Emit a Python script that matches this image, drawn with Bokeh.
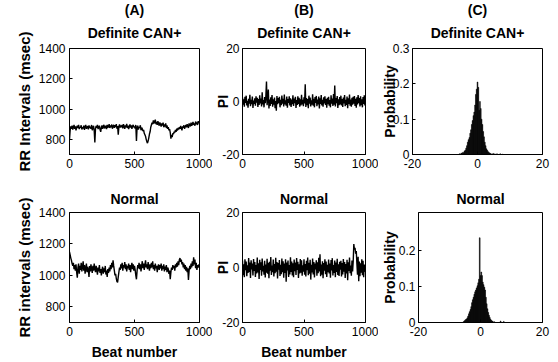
from bokeh.plotting import figure
from bokeh.models import Range1d, FixedTicker, Title, CustomJSTickFormatter
from bokeh.layouts import column, row
from bokeh.embed import file_html
from bokeh.resources import INLINE

FONT = "Liberation Sans"

# ---------------- data (one value every 5 beats) ----------------
BEAT_STEP = 5

rr_can = [
    800, 860, 885, 870, 890, 865, 880, 895, 870, 885, 860, 880, 890, 875, 895, 868, 882, 878, 893, 865,
    880, 872, 890, 862, 885, 895, 870, 880, 888, 866, 892, 875, 883, 870, 895, 860, 878, 890, 858, 780,
    870, 888, 876, 895, 868, 882, 890, 865, 850, 878, 892, 870, 885, 896, 872, 880, 890, 868, 895, 878,
    885, 900, 875, 892, 880, 898, 870, 888, 895, 876, 893, 882, 900, 870, 888, 830, 885, 898, 878, 892,
    880, 895, 872, 900, 885, 870, 893, 880, 902, 875, 890, 868, 885, 898, 878, 892, 870, 888, 895, 880,
    885, 872, 895, 790, 880, 890, 865, 882, 875, 893, 860, 878, 870, 855, 862, 840, 830, 820, 800, 785,
    775, 790, 810, 835, 850, 880, 895, 910, 900, 925, 905, 918, 930, 900, 915, 895, 920, 905, 890, 912,
    900, 885, 905, 892, 910, 880, 898, 885, 905, 875, 893, 870, 880, 860, 868, 845, 805, 830, 815, 840,
    835, 850, 845, 862, 850, 870, 858, 875, 865, 880, 870, 888, 875, 860, 885, 878, 893, 870, 885, 895,
    880, 900, 890, 875, 905, 895, 885, 910, 890, 900, 915, 895, 905, 890, 918, 900, 912, 895, 920, 905,
]

rr_normal = [
    1150, 1130, 1110, 1095, 1075, 1060, 1080, 1040, 1065, 1030, 1070, 1020, 985, 1050, 1075, 1010, 1060, 1035, 1080, 1025,
    1055, 1090, 1030, 1065, 1010, 1045, 1075, 1020, 1055, 1035, 990, 1060, 1025, 1070, 1040, 1015, 1060, 1030, 1075, 1045,
    1020, 1060, 1035, 1005, 1050, 1025, 1065, 1015, 1040, 1000, 1035, 1055, 1010, 1045, 1020, 1060, 1005, 1030, 990, 1040,
    1015, 1050, 1025, 1065, 1040, 1080, 1050, 1095, 1060, 1030, 1000, 1010, 980, 960, 955, 990, 1020, 1050, 1035, 1070,
    1045, 1080, 1030, 1065, 1050, 1085, 1040, 1070, 1025, 1060, 1045, 1075, 1035, 1065, 1020, 1055, 1080, 1040, 1070, 1030,
    1060, 1035, 1000, 975, 1030, 1065, 1045, 1080, 1040, 1070, 1025, 1060, 1090, 1045, 1075, 1035, 1065, 1095, 1050, 1070,
    1040, 1085, 1055, 1030, 1070, 1045, 1080, 1050, 1090, 1040, 1065, 1030, 1075, 1045, 1060, 1020, 1055, 1070, 1035, 1065,
    1045, 1075, 1030, 1060, 1040, 1070, 1025, 1055, 1035, 1065, 1020, 1050, 1040, 1010, 1030, 975, 1020, 1050, 1035, 1065,
    1045, 1060, 1030, 1070, 1050, 1080, 1055, 1090, 1065, 1100, 1110, 1085, 1100, 1070, 1085, 1050, 1075, 1040, 1065, 1030,
    1055, 1020, 1045, 970, 1030, 1060, 1040, 1075, 1050, 1090, 1060, 1115, 1070, 1100, 1045, 1080, 1035, 1065, 1050, 1070,
]

pi_can = [
    1.5, -1.2, 0.8, -2.0, 1.8, -0.5, 2.2, -1.5, 0.3, -2.3, 1.0, -0.8, 2.5, -1.8, 0.6, -1.0, 1.9, -2.4, 0.4, -0.9,
    1.2, -1.6, 2.0, -0.4, 1.4, -2.1, 0.9, -1.3, 2.3, -0.7, 1.1, -1.9, 3.5, -1.1, 0.5, -2.2, 1.7, -0.6, 2.1, 7.5,
    -1.4, 1.3, 4.5, -2.6, 0.7, -1.7, 1.6, -0.9, 2.4, -2.0, 0.8, -1.2, 1.5, -2.5, 0.2, -3.5, 2.1, -1.0, 1.3, -0.6,
    1.8, -2.2, 0.6, -1.4, 2.2, -0.8, 1.0, -1.9, 2.6, -1.1, 0.4, -1.6, 1.9, -2.3, 0.9, -0.5, 2.0, -1.5, 1.2, -2.1,
    0.7, -1.0, 2.3, -1.7, 1.1, -0.6, 1.8, -2.4, 0.5, -1.3, 2.0, -0.9, 1.4, -2.0, 0.8, -1.5, 2.5, -1.1, 0.6, -1.8,
    1.6, -0.7, 6.5, -2.1, 1.3, -1.4, 0.9, -2.5, 2.2, -0.8, 1.5, -1.9, 0.4, -1.2, 2.7, -1.6, 1.0, -2.2, 1.7, -0.5,
    2.1, -1.8, 0.7, -1.1, 1.9, -2.6, 1.2, -0.9, 2.4, -1.5, 0.6, -2.0, 1.6, -0.7, 2.0, -1.3, 0.9, -2.3, 1.4, -1.0,
    1.8, -1.6, 0.5, -2.2, 2.3, -0.8, 1.1, -1.7, 2.8, -1.2, 6.0, -1.9, 1.3, -0.6, 2.1, -2.4, 0.8, -1.4, 1.7, -1.1,
    2.2, -1.5, 0.9, -2.1, 1.5, -0.7, 2.4, -1.8, 0.6, -1.3, 1.9, -2.5, 1.2, -0.9, 2.6, -1.6, 0.7, -2.0, 1.4, -1.2,
    1.8, -0.8, 2.1, -1.7, 1.0, -2.3, 1.6, -1.1, 2.4, -0.6, 1.3, -1.9, 2.0, -1.4, 0.8, -2.2, 1.7, -0.9, 2.3, -1.5,
]

pi_normal = [
    2.5, -2.8, 1.2, -3.5, 3.0, -1.0, 2.2, -3.2, 0.8, -2.0, 3.4, -1.6, 1.8, -3.8, 2.6, -0.7, 1.4, -2.9, 3.1, -1.3,
    2.0, -3.4, 0.9, -2.2, 3.6, -1.8, 1.5, -4.2, 2.8, -0.9, 1.9, -3.0, 3.3, -1.4, 0.6, -2.6, 2.4, -3.6, 1.1, -1.9,
    3.2, -2.3, 1.7, -3.9, 2.1, -1.2, 3.8, -2.7, 0.7, -1.7, 2.9, -3.3, 1.3, -2.1, 3.5, -1.5, 2.0, -4.0, 1.6, -0.8,
    2.7, -3.1, 1.0, -2.4, 3.3, -1.7, 2.3, -3.7, 1.4, -2.0, 3.0, -5.2, 1.8, -1.1, 2.5, -3.4, 0.9, -2.5, 3.7, -1.6,
    2.2, -2.9, 1.5, -3.5, 2.9, -1.3, 1.8, -2.7, 3.4, -0.9, 2.1, -3.8, 1.2, -2.2, 3.1, -1.9, 2.6, -3.0, 0.8, -1.5,
    3.0, -2.6, 1.3, -3.3, 2.4, -1.0, 3.6, -2.8, 1.7, -2.3, 2.8, -4.4, 1.0, -1.8, 3.3, -2.5, 2.0, -3.6, 1.4, -0.7,
    2.6, -3.0, 1.9, -2.1, 3.5, -1.4, 4.8, -3.2, 1.1, -2.6, 2.3, -3.9, 1.6, -1.2, 3.0, -2.4, 2.2, -3.4, 1.0, -1.7,
    2.9, -2.2, 1.4, -3.7, 2.7, -1.1, 3.4, -2.9, 0.9, -2.0, 2.5, -3.5, 1.8, -1.6, 3.2, -2.7, 1.2, -3.1, 2.1, -0.8,
    2.4, -3.3, 1.6, -2.5, 3.1, -1.5, 2.0, -3.8, 1.3, -2.2, 2.8, -4.6, 1.9, -1.3, 3.6, -2.1, 0.7, -3.0, 2.5, -1.4,
    2.1, 8.5, 6.5, 7.2, 5.0, 6.0, 1.5, -2.6, 3.9, -5.0, 2.2, -3.2, 1.5, -1.9, 3.0, -2.8, 2.4, -3.5, 1.1, -1.6,
]

hist_can_bins = [-5.5, -5.0, -4.75, -4.5, -4.25, -4.0, -3.75, -3.5, -3.25, -3.0,
                 -2.75, -2.5, -2.25, -2.0, -1.75, -1.5, -1.25, -1.0, -0.75, -0.5,
                 -0.25, 0.0, 0.25, 0.5, 0.75, 1.0, 1.25, 1.5, 1.75, 2.0,
                 2.25, 2.5, 2.75, 3.0, 3.25, 3.5, 3.75, 4.0, 4.5, 5.0,
                 5.5, 6.0, 7.0, 7.75]
hist_can_prob = [0.002, 0.004, 0.003, 0.006, 0.005, 0.010, 0.012, 0.018, 0.025, 0.035,
                 0.042, 0.048, 0.060, 0.070, 0.085, 0.096, 0.110, 0.120, 0.140, 0.170,
                 0.185, 0.205, 0.190, 0.125, 0.150, 0.130, 0.100, 0.085, 0.065, 0.050,
                 0.035, 0.025, 0.016, 0.012, 0.008, 0.006, 0.004, 0.003, 0.002, 0.003,
                 0.001, 0.002, 0.002, 0.001]

hist_normal_bins = [-5.5, -5.25, -5.0, -4.75, -4.5, -4.25, -4.0, -3.75, -3.5, -3.25,
                    -3.0, -2.75, -2.5, -2.25, -2.0, -1.75, -1.5, -1.25, -1.0, -0.75,
                    -0.5, -0.25, 0.0, 0.25, 0.5, 0.75, 1.0, 1.25, 1.5, 1.75,
                    2.0, 2.25, 2.5, 2.75, 3.0, 3.25, 3.5, 3.75, 4.0, 4.5,
                    6.5, 7.5]
hist_normal_prob = [0.002, 0.004, 0.006, 0.008, 0.010, 0.013, 0.018, 0.024, 0.030, 0.036,
                    0.044, 0.055, 0.063, 0.070, 0.078, 0.085, 0.090, 0.096, 0.102, 0.110,
                    0.120, 0.235, 0.130, 0.140, 0.130, 0.112, 0.105, 0.098, 0.090, 0.070,
                    0.052, 0.038, 0.028, 0.020, 0.014, 0.009, 0.006, 0.004, 0.003, 0.002,
                    0.004, 0.003]
HIST_BIN_WIDTH = 0.25

beat_ticks = [0, 500, 1000]
rr_ticks = [800, 1000, 1200, 1400]
pi_ticks = [-20, 0, 20]
hist_x_ticks = [-20, 0, 20]
prob_ticks_top = [0, 0.1, 0.2, 0.3]
prob_ticks_bottom = [0, 0.1, 0.2]

# ---------------- helpers ----------------
# plain ASCII hyphen-minus for negative numbers, as in the original figure
int_fmt = CustomJSTickFormatter(code="return String(tick);")
prob_fmt = CustomJSTickFormatter(code="return (Math.round(tick*10)/10).toString();")


def style_axis(ax, ticks, standoff, fmt):
    ax.ticker = FixedTicker(ticks=ticks)
    ax.formatter = fmt
    ax.axis_line_color = "black"
    ax.axis_line_width = 1
    ax.major_tick_line_color = "black"
    ax.major_tick_in = 3
    ax.major_tick_out = 0
    ax.minor_tick_line_color = None
    ax.major_label_text_font = FONT
    ax.major_label_text_font_size = "12px"
    ax.major_label_text_color = "black"
    ax.major_label_standoff = standoff


def label_axis(ax, text, size, standoff):
    ax.axis_label = text
    ax.axis_label_text_font = FONT
    ax.axis_label_text_font_size = size
    ax.axis_label_text_font_style = "bold"
    ax.axis_label_text_color = "black"
    ax.axis_label_standoff = standoff


def style_title(t, standoff, size="14px"):
    t.text_font = FONT
    t.text_font_size = size
    t.text_font_style = "bold"
    t.text_color = "black"
    t.align = "center"
    t.standoff = standoff


def make_fig(width, height, left, right, top, bottom, xr, yr, xticks, yticks,
             title_lines, inner_standoff, ylabel, ylab_size, ylab_standoff,
             xlabel=None, yfmt=int_fmt, x_standoff=4, y_standoff=4, ylab_as_title_offset=None):
    p = figure(width=width, height=height, x_range=Range1d(*xr), y_range=Range1d(*yr),
               toolbar_location=None, tools="", output_backend="svg",
               min_border_left=left, min_border_right=right,
               min_border_top=top, min_border_bottom=bottom)
    p.grid.visible = False
    p.outline_line_color = "black"
    p.outline_line_width = 1
    p.outline_line_alpha = 1
    p.background_fill_color = "white"
    p.border_fill_color = "white"
    style_axis(p.xaxis[0], xticks, x_standoff, int_fmt)
    style_axis(p.yaxis[0], yticks, y_standoff, yfmt)
    if xlabel:
        label_axis(p.xaxis[0], xlabel, "14px", 5)
    if ylab_as_title_offset is None:
        label_axis(p.yaxis[0], ylabel, ylab_size, ylab_standoff)
    else:
        yt = Title(text=ylabel, offset=ylab_as_title_offset)
        style_title(yt, ylab_standoff, ylab_size)
        p.add_layout(yt, "left")

    # p.title is the outermost line; the remaining lines are added nearer the frame
    p.title.text = title_lines[0]
    if len(title_lines) > 1:
        style_title(p.title, -7)
        for line in title_lines[1:]:
            t = Title(text=line)
            style_title(t, inner_standoff)
            p.add_layout(t, "above")
    else:
        style_title(p.title, inner_standoff)
    return p


def beats_for(series):
    return [i * BEAT_STEP for i in range(len(series))]


TOP_H, BOT_H = 178, 184
LW = 1.4

# ---- top row ----
a1 = make_fig(212, TOP_H, 69, 13, 48, 24, (0, 1000), (700, 1400), beat_ticks, rr_ticks,
              ["(A)", "Definite CAN+"], 16, "RR Intervals (msec)", "15px", 6,
              ylab_as_title_offset=18)
a1.line(beats_for(rr_can), rr_can, line_color="black", line_width=LW)

b1 = make_fig(166, TOP_H, 24, 13, 48, 24, (0, 1000), (-20, 20), beat_ticks, pi_ticks,
              ["(B)", "Definite CAN+"], 16, "PI", "14px", -12, y_standoff=3)
b1.line(beats_for(pi_can), pi_can, line_color="black", line_width=LW)

c1 = make_fig(180, TOP_H, 31, 16, 48, 24, (-20, 20), (0, 0.3), hist_x_ticks, prob_ticks_top,
              ["(C)", "Definite CAN+"], 16, "Probability", "14px", -8,
              yfmt=prob_fmt, y_standoff=3)
c1.vbar(x=hist_can_bins, top=hist_can_prob, bottom=0, width=HIST_BIN_WIDTH,
        fill_color="black", line_color="black", line_width=0.5)

# ---- bottom row ----
a2 = make_fig(212, BOT_H, 69, 13, 34, 38, (0, 1000), (700, 1400), beat_ticks, rr_ticks,
              ["Normal"], 12, "RR intervals (msec)", "15px", 6, xlabel="Beat number",
              ylab_as_title_offset=4)
a2.line(beats_for(rr_normal), rr_normal, line_color="black", line_width=LW)

b2 = make_fig(166, BOT_H, 24, 13, 34, 38, (0, 1000), (-20, 20), beat_ticks, pi_ticks,
              ["Normal"], 12, "PI", "14px", -12, xlabel="Beat number", y_standoff=3)
b2.line(beats_for(pi_normal), pi_normal, line_color="black", line_width=LW)

c2 = make_fig(180, BOT_H, 34, 16, 34, 38, (-20, 20), (0, 0.305), hist_x_ticks, prob_ticks_bottom,
              ["Normal"], 12, "Probability", "14px", -2, yfmt=prob_fmt, y_standoff=3)
c2.vbar(x=hist_normal_bins, top=hist_normal_prob, bottom=0, width=HIST_BIN_WIDTH,
        fill_color="black", line_color="black", line_width=0.5)

layout = column(row(a1, b1, c1), row(a2, b2, c2))
open("out.html", "w").write(file_html(layout, INLINE))
